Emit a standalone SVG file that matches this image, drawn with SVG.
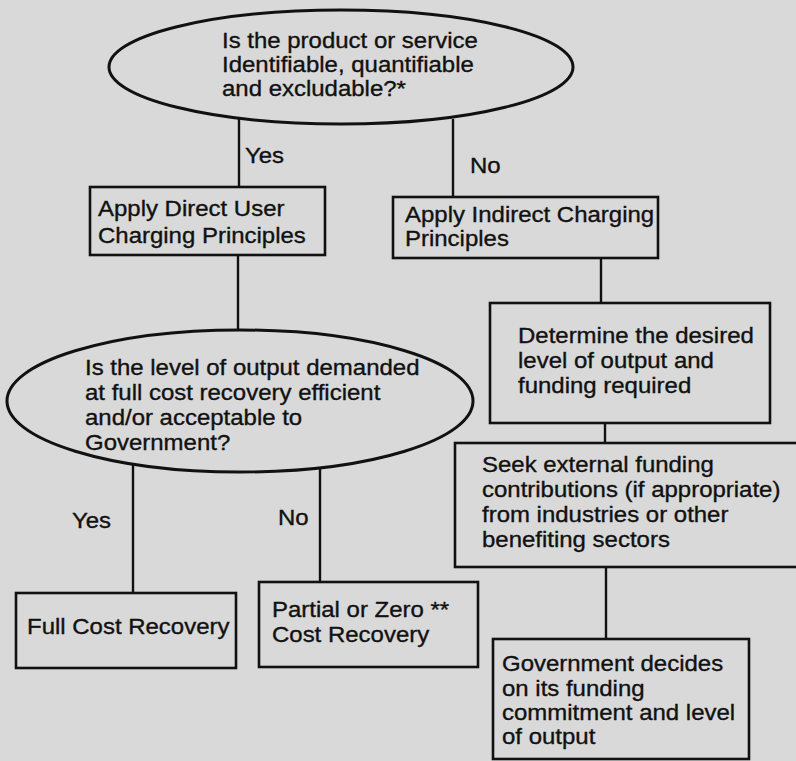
<svg xmlns="http://www.w3.org/2000/svg" width="796" height="761" viewBox="0 0 796 761">
  <style>
    .bg { fill: #d9d9d9; }
    .node { fill: none; stroke: #111; stroke-width: 2.6; }
    .dec { fill: none; stroke: #111; stroke-width: 3; }
    .conn { stroke: #111; stroke-width: 2.4; fill: none; }
    text { font-family: "Liberation Sans", Arial, sans-serif; font-size: 22px; fill: #111; stroke: #111; stroke-width: 0.35; }
  </style>
  <rect class="bg" x="0" y="0" width="796" height="761"/>

  <g id="connectors">
    <line class="conn" x1="239" y1="119" x2="239" y2="188"/>
    <line class="conn" x1="453" y1="119" x2="453" y2="197"/>
    <line class="conn" x1="238" y1="255" x2="238" y2="330"/>
    <line class="conn" x1="133" y1="464" x2="133" y2="593"/>
    <line class="conn" x1="320" y1="468" x2="320" y2="582"/>
    <line class="conn" x1="601" y1="258" x2="601" y2="303"/>
    <line class="conn" x1="605" y1="423" x2="605" y2="443"/>
    <line class="conn" x1="606" y1="567" x2="606" y2="639"/>
    <text transform="translate(245 163) scale(1.09 1)">Yes</text>
    <text transform="translate(470 173) scale(1.09 1)">No</text>
    <text transform="translate(72 528) scale(1.09 1)">Yes</text>
    <text transform="translate(278 525) scale(1.09 1)">No</text>
  </g>

  <g id="q1">
    <ellipse class="dec" cx="341" cy="67" rx="232" ry="57"/>
    <text transform="translate(222 48) scale(1.09 1)">Is the product or service</text>
    <text transform="translate(222 72) scale(1.09 1)">Identifiable, quantifiable</text>
    <text transform="translate(222 96) scale(1.09 1)">and excludable?*</text>
  </g>

  <g id="direct">
    <rect class="node" x="90" y="187" width="235" height="68"/>
    <text transform="translate(98 216) scale(1.09 1)">Apply Direct User</text>
    <text transform="translate(98 243) scale(1.09 1)">Charging Principles</text>
  </g>

  <g id="indirect">
    <rect class="node" x="393" y="197" width="265" height="61"/>
    <text transform="translate(405 222) scale(1.09 1)">Apply Indirect Charging</text>
    <text transform="translate(405 246) scale(1.09 1)">Principles</text>
  </g>

  <g id="q2">
    <ellipse class="dec" cx="240" cy="401" rx="233" ry="71"/>
    <text transform="translate(85 375) scale(1.09 1)">Is the level of output demanded</text>
    <text transform="translate(85 400) scale(1.09 1)">at full cost recovery efficient</text>
    <text transform="translate(85 425) scale(1.09 1)">and/or acceptable to</text>
    <text transform="translate(85 450) scale(1.09 1)">Government?</text>
  </g>

  <g id="determine">
    <rect class="node" x="490" y="303" width="280" height="120"/>
    <text transform="translate(518 343) scale(1.09 1)">Determine the desired</text>
    <text transform="translate(518 368) scale(1.09 1)">level of output and</text>
    <text transform="translate(518 393) scale(1.09 1)">funding required</text>
  </g>

  <g id="seek">
    <rect class="node" x="455" y="443" width="345" height="124"/>
    <text transform="translate(482 472) scale(1.09 1)">Seek external funding</text>
    <text transform="translate(482 497) scale(1.09 1)">contributions (if appropriate)</text>
    <text transform="translate(482 522) scale(1.09 1)">from industries or other</text>
    <text transform="translate(482 547) scale(1.09 1)">benefiting sectors</text>
  </g>

  <g id="full">
    <rect class="node" x="16" y="593" width="220" height="75"/>
    <text transform="translate(27 634) scale(1.09 1)">Full Cost Recovery</text>
  </g>

  <g id="partial">
    <rect class="node" x="259" y="582" width="219" height="85"/>
    <text transform="translate(272 617) scale(1.09 1)">Partial or Zero **</text>
    <text transform="translate(272 642) scale(1.09 1)">Cost Recovery</text>
  </g>

  <g id="gov">
    <rect class="node" x="493" y="639" width="256" height="120"/>
    <text transform="translate(502 671) scale(1.09 1)">Government decides</text>
    <text transform="translate(502 696) scale(1.09 1)">on its funding</text>
    <text transform="translate(502 720) scale(1.09 1)">commitment and level</text>
    <text transform="translate(502 744) scale(1.09 1)">of output</text>
  </g>
</svg>
